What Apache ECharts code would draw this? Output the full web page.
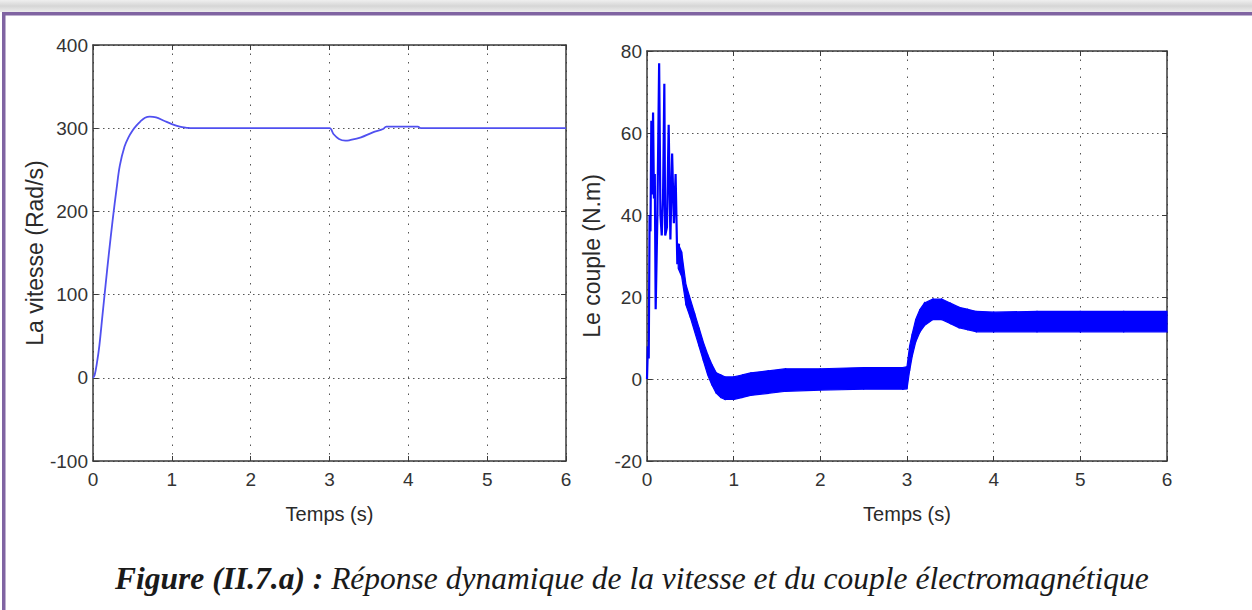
<!DOCTYPE html>
<html><head><meta charset="utf-8">
<script src="https://cdn.jsdelivr.net/npm/echarts@6/dist/echarts.min.js"></script>
<style>html,body{margin:0;padding:0;background:#fff;}#c{width:1252px;height:610px;}</style>
</head><body><div id="c"></div>
<script>
// ---- data ----
const xTicks = [0, 1, 2, 3, 4, 5, 6];
const speedTicks = [-100, 0, 100, 200, 300, 400];
const torqueTicks = [-20, 0, 20, 40, 60, 80];

// Speed (rad/s) vs time (s)
const speedT = [0, 0.02, 0.05, 0.08, 0.12, 0.16, 0.2, 0.25, 0.3, 0.34, 0.4, 0.45, 0.5, 0.55, 0.6, 0.66, 0.72, 0.8, 0.9, 1.0, 1.1, 1.2, 1.25, 3.0, 3.05, 3.12, 3.2, 3.25, 3.4, 3.55, 3.68, 3.72, 4.12, 4.16, 6.0];
const speedV = [0, 3, 18, 38, 75, 112, 148, 190, 228, 255, 278, 289, 297, 303, 308, 312.5, 314, 313, 309, 305, 302, 300.5, 300, 300, 293, 287, 285, 285.5, 289, 295, 299, 302, 302, 300, 300];

// Torque start-up oscillation (N.m)
const torqueStartT = [0, 0.01, 0.02, 0.03, 0.04, 0.05, 0.06, 0.07, 0.08, 0.09, 0.1, 0.12, 0.14, 0.155, 0.17, 0.185, 0.2, 0.21, 0.23, 0.25, 0.27, 0.29, 0.31, 0.33, 0.35, 0.37];
const torqueStartV = [0, 8, 5, 40, 36, 63, 45, 65, 44, 50, 17, 40, 77, 40, 35, 44, 72, 35, 37, 62, 34, 55, 38, 50, 28, 33];

// Torque noise band after start-up: lower / upper envelope (N.m)
const bandT    = [0.36, 0.4, 0.45, 0.5, 0.55, 0.6, 0.65, 0.7, 0.75, 0.8, 0.85, 0.9, 1.0, 1.1, 1.2, 1.4, 1.6, 2.0, 2.5, 2.95, 3.0, 3.03, 3.06, 3.1, 3.15, 3.2, 3.3, 3.4, 3.5, 3.6, 3.7, 3.8, 4.0, 4.5, 5.0, 5.5, 6.0];
const bandLow  = [27, 25, 18, 15, 11.5, 8, 4.5, 1, -1.5, -3.5, -4.5, -5, -5, -4.5, -4, -3.5, -3, -2.7, -2.5, -2.5, -2.4, 2, 5.5, 9, 11.5, 13, 14.5, 14.5, 13.5, 12.5, 12, 11.5, 11.5, 11.5, 11.5, 11.5, 11.5];
const bandHigh = [33, 31, 23, 19.5, 16, 12.5, 9, 6, 3.5, 1.5, 1, 0.5, 0.5, 1, 1.5, 2, 2.5, 2.5, 2.8, 2.8, 3, 8, 11, 14.5, 17, 18.5, 19.5, 19.5, 18.5, 17.5, 17, 16.5, 16.3, 16.5, 16.5, 16.5, 16.5];

const yNameLeft = 'La vitesse (Rad/s)';
const yNameRight = 'Le couple (N.m)';
const xName = 'Temps (s)';
const captionBold = 'Figure (II.7.a) :';
const captionText = ' Réponse dynamique de la vitesse et du couple électromagnétique';

// ---- chart ----
const SANS = '"Liberation Sans", Arial, sans-serif';
const SERIF = '"Liberation Serif", "Times New Roman", serif';
const axisColor = '#3a3a3a';
const gridDot = '#555555';

function bottomX(gi) {
  return {
    type: 'value', gridIndex: gi, position: 'bottom',
    min: xTicks[0], max: xTicks[xTicks.length - 1], interval: 1,
    name: xName, nameLocation: 'middle', nameGap: 43,
    nameTextStyle: { fontFamily: SANS, fontSize: 20, color: '#2a2a2a' },
    axisLine: { show: true, onZero: false, lineStyle: { color: axisColor, width: 1.5 } },
    axisTick: { show: true, inside: true, length: 5, lineStyle: { color: axisColor } },
    axisLabel: { margin: 9, fontFamily: SANS, fontSize: 19, color: '#333' },
    splitLine: { show: true, lineStyle: { color: gridDot, type: [1.5, 7], width: 1 } }
  };
}
function topX(gi) {
  return {
    type: 'value', gridIndex: gi, position: 'top',
    min: xTicks[0], max: xTicks[xTicks.length - 1], interval: 1,
    axisLine: { show: true, onZero: false, lineStyle: { color: axisColor, width: 1.5 } },
    axisTick: { show: true, inside: true, length: 5, lineStyle: { color: axisColor } },
    axisLabel: { show: false }, splitLine: { show: false }
  };
}
function leftY(gi, ticks, name, gap) {
  return {
    type: 'value', gridIndex: gi, position: 'left',
    min: ticks[0], max: ticks[ticks.length - 1], interval: ticks[1] - ticks[0],
    name: name, nameLocation: 'middle', nameGap: gap, nameRotate: 90,
    nameTextStyle: { fontFamily: SANS, fontSize: 23, color: '#2a2a2a' },
    axisLine: { show: true, onZero: false, lineStyle: { color: axisColor, width: 1.5 } },
    axisTick: { show: true, inside: true, length: 5, lineStyle: { color: axisColor } },
    axisLabel: { margin: 5, fontFamily: SANS, fontSize: 19, color: '#333' },
    splitLine: { show: true, lineStyle: { color: gridDot, type: [1.5, 3.5], width: 1 } }
  };
}
function rightY(gi, ticks) {
  return {
    type: 'value', gridIndex: gi, position: 'right',
    min: ticks[0], max: ticks[ticks.length - 1], interval: ticks[1] - ticks[0],
    axisLine: { show: true, onZero: false, lineStyle: { color: axisColor, width: 1.5 } },
    axisTick: { show: true, inside: true, length: 5, lineStyle: { color: axisColor } },
    axisLabel: { show: false }, splitLine: { show: false }
  };
}

const zip = (a, b) => a.map((v, i) => [v, b[i]]);

const option = {
  animation: false,
  backgroundColor: '#ffffff',
  grid: [
    { left: 93, top: 45, width: 473, height: 416 },
    { left: 647, top: 51, width: 520, height: 410 }
  ],
  xAxis: [bottomX(0), topX(0), bottomX(1), topX(1)],
  yAxis: [
    leftY(0, speedTicks, yNameLeft, 46), rightY(0, speedTicks),
    leftY(1, torqueTicks, yNameRight, 44), rightY(1, torqueTicks)
  ],
  series: [
    {
      type: 'line', xAxisIndex: 0, yAxisIndex: 0, showSymbol: false, smooth: 0.35,
      data: zip(speedT, speedV),
      lineStyle: { color: '#5050f0', width: 1.8 }
    },
    {
      type: 'line', xAxisIndex: 2, yAxisIndex: 2, showSymbol: false,
      data: zip(torqueStartT, torqueStartV),
      lineStyle: { color: '#0000ff', width: 2.2 }
    },
    {
      type: 'custom', xAxisIndex: 2, yAxisIndex: 2,
      data: bandT.map((t, i) => [t, bandLow[i], bandHigh[i]]),
      encode: { x: 0, y: [1, 2] },
      renderItem: function (params, api) {
        const i = params.dataIndex;
        if (i >= bandT.length - 1) return null;
        const p = [
          api.coord([api.value(0, i), api.value(2, i)]),
          api.coord([api.value(0, i + 1), api.value(2, i + 1)]),
          api.coord([api.value(0, i + 1), api.value(1, i + 1)]),
          api.coord([api.value(0, i), api.value(1, i)])
        ];
        return { type: 'polygon', shape: { points: p },
          style: { fill: '#0000ff', stroke: '#0000ff', lineWidth: 1.2 } };
      }
    }
  ],
  graphic: [
    { type: 'rect', left: 0, top: 0, silent: true, z: -1,
      shape: { width: 1252, height: 12 },
      style: { fill: { type: 'linear', x: 0, y: 0, x2: 0, y2: 1, colorStops: [
        { offset: 0, color: '#efefef' }, { offset: 0.5, color: '#d6d6d6' }, { offset: 1, color: '#ececec' } ] } } },
    { type: 'rect', left: 2, top: 12, silent: true,
      shape: { width: 1250, height: 3.5 }, style: { fill: '#8064a2' } },
    { type: 'rect', left: 2, top: 12, silent: true,
      shape: { width: 3.5, height: 598 }, style: { fill: '#8064a2' } },
    { type: 'text', left: 115, top: 562, silent: true,
      style: {
        text: '{b|' + captionBold + '}{i|' + captionText + '}',
        rich: {
          b: { fontFamily: SERIF, fontStyle: 'italic', fontWeight: 'bold', fontSize: 31.5, fill: '#1a1a1a' },
          i: { fontFamily: SERIF, fontStyle: 'italic', fontSize: 31.5, fill: '#1a1a1a' }
        }
      } }
  ]
};

const chart = echarts.init(document.getElementById('c'), null, { renderer: 'svg', width: 1252, height: 610 });
chart.setOption(option);
</script></body></html>
